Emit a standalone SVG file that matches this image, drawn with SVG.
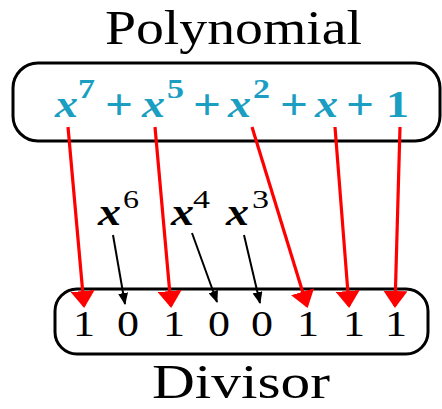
<svg xmlns="http://www.w3.org/2000/svg" width="442" height="409" viewBox="0 0 442 409">
<style>
.box{fill:#fff;stroke:#000;stroke-width:3}
.title{font-family:"Liberation Serif",serif;font-size:48px;fill:#000}
.poly{font-family:"Liberation Serif",serif;font-weight:bold;fill:#1a9ec2;font-size:38px}
.plus{font-family:"Liberation Serif",serif;font-weight:bold;fill:#1a9ec2;font-size:44px}
.sup{font-family:"Liberation Serif",serif;font-weight:bold;fill:#1a9ec2;font-size:28px}
.it{font-style:italic}
.lab{font-family:"Liberation Serif",serif;font-weight:bold;font-style:italic;font-size:38px;fill:#000}
.labsup{font-family:"Liberation Serif",serif;font-size:25px;fill:#000}
.dig{font-family:"Liberation Serif",serif;font-size:36px;fill:#000}
.red{stroke:#ff0000;stroke-width:3.2;fill:none}
.blk{stroke:#000;stroke-width:2;fill:none}
</style>
<defs>
<marker id="rh" markerUnits="userSpaceOnUse" markerWidth="17" markerHeight="24" refX="15" refY="12" orient="auto" viewBox="0 0 17 24">
<path d="M0,0 L17,12 L0,24 z" fill="#ff0000"/>
</marker>
<marker id="bh" markerUnits="userSpaceOnUse" markerWidth="12" markerHeight="10" refX="11" refY="5" orient="auto" viewBox="0 0 12 10">
<path d="M0,0 L12,5 L0,10 z" fill="#000"/>
</marker>
</defs>
<g id="title-polynomial">
<text class="title" x="105" y="44" textLength="257" lengthAdjust="spacingAndGlyphs">Polynomial</text>
</g>
<g id="polynomial">
<rect class="box" x="13" y="63" width="427" height="78" rx="25"/>
<text class="poly it" x="55" y="117" textLength="23" lengthAdjust="spacingAndGlyphs">x</text>
<text class="sup" x="78" y="98" textLength="17" lengthAdjust="spacingAndGlyphs">7</text>
<text class="plus" x="105" y="119" textLength="28" lengthAdjust="spacingAndGlyphs">+</text>
<text class="poly it" x="142" y="117" textLength="23" lengthAdjust="spacingAndGlyphs">x</text>
<text class="sup" x="167" y="98" textLength="17" lengthAdjust="spacingAndGlyphs">5</text>
<text class="plus" x="193" y="119" textLength="28" lengthAdjust="spacingAndGlyphs">+</text>
<text class="poly it" x="228" y="117" textLength="23" lengthAdjust="spacingAndGlyphs">x</text>
<text class="sup" x="253" y="98" textLength="17" lengthAdjust="spacingAndGlyphs">2</text>
<text class="plus" x="280" y="119" textLength="28" lengthAdjust="spacingAndGlyphs">+</text>
<text class="poly it" x="315" y="117" textLength="23" lengthAdjust="spacingAndGlyphs">x</text>
<text class="plus" x="346" y="119" textLength="28" lengthAdjust="spacingAndGlyphs">+</text>
<text class="poly" x="386" y="117" textLength="23" lengthAdjust="spacingAndGlyphs">1</text>
</g>
<g id="labels">
<text class="lab" x="98" y="225" textLength="23" lengthAdjust="spacingAndGlyphs">x</text>
<text class="labsup" x="123" y="208" textLength="16" lengthAdjust="spacingAndGlyphs">6</text>
<text class="lab" x="171" y="225" textLength="23" lengthAdjust="spacingAndGlyphs">x</text>
<text class="labsup" x="193" y="208" textLength="17" lengthAdjust="spacingAndGlyphs">4</text>
<text class="lab" x="226" y="225" textLength="23" lengthAdjust="spacingAndGlyphs">x</text>
<text class="labsup" x="252" y="208" textLength="17" lengthAdjust="spacingAndGlyphs">3</text>
</g>
<g id="divisor">
<rect class="box" x="55" y="289" width="373" height="65" rx="22"/>
<text class="dig" x="73" y="336" textLength="22" lengthAdjust="spacingAndGlyphs">1</text>
<text class="dig" x="117" y="336" textLength="22" lengthAdjust="spacingAndGlyphs">0</text>
<text class="dig" x="163" y="336" textLength="22" lengthAdjust="spacingAndGlyphs">1</text>
<text class="dig" x="208" y="336" textLength="22" lengthAdjust="spacingAndGlyphs">0</text>
<text class="dig" x="251" y="336" textLength="22" lengthAdjust="spacingAndGlyphs">0</text>
<text class="dig" x="297" y="336" textLength="22" lengthAdjust="spacingAndGlyphs">1</text>
<text class="dig" x="343" y="336" textLength="22" lengthAdjust="spacingAndGlyphs">1</text>
<text class="dig" x="385" y="336" textLength="22" lengthAdjust="spacingAndGlyphs">1</text>
</g>
<g id="title-divisor">
<text class="title" x="152" y="398" textLength="178" lengthAdjust="spacingAndGlyphs">Divisor</text>
</g>
<g id="connectors">
<line class="red" x1="68" y1="127" x2="84" y2="306" marker-end="url(#rh)"/>
<line class="red" x1="155" y1="127" x2="171" y2="306" marker-end="url(#rh)"/>
<line class="red" x1="252" y1="127" x2="307" y2="306" marker-end="url(#rh)"/>
<line class="red" x1="335" y1="127" x2="349" y2="306" marker-end="url(#rh)"/>
<line class="red" x1="400" y1="127" x2="395" y2="306" marker-end="url(#rh)"/>
<line class="blk" x1="113" y1="235" x2="125" y2="304" marker-end="url(#bh)"/>
<line class="blk" x1="192" y1="233" x2="217" y2="302" marker-end="url(#bh)"/>
<line class="blk" x1="244" y1="235" x2="260" y2="303" marker-end="url(#bh)"/>
</g>
</svg>
